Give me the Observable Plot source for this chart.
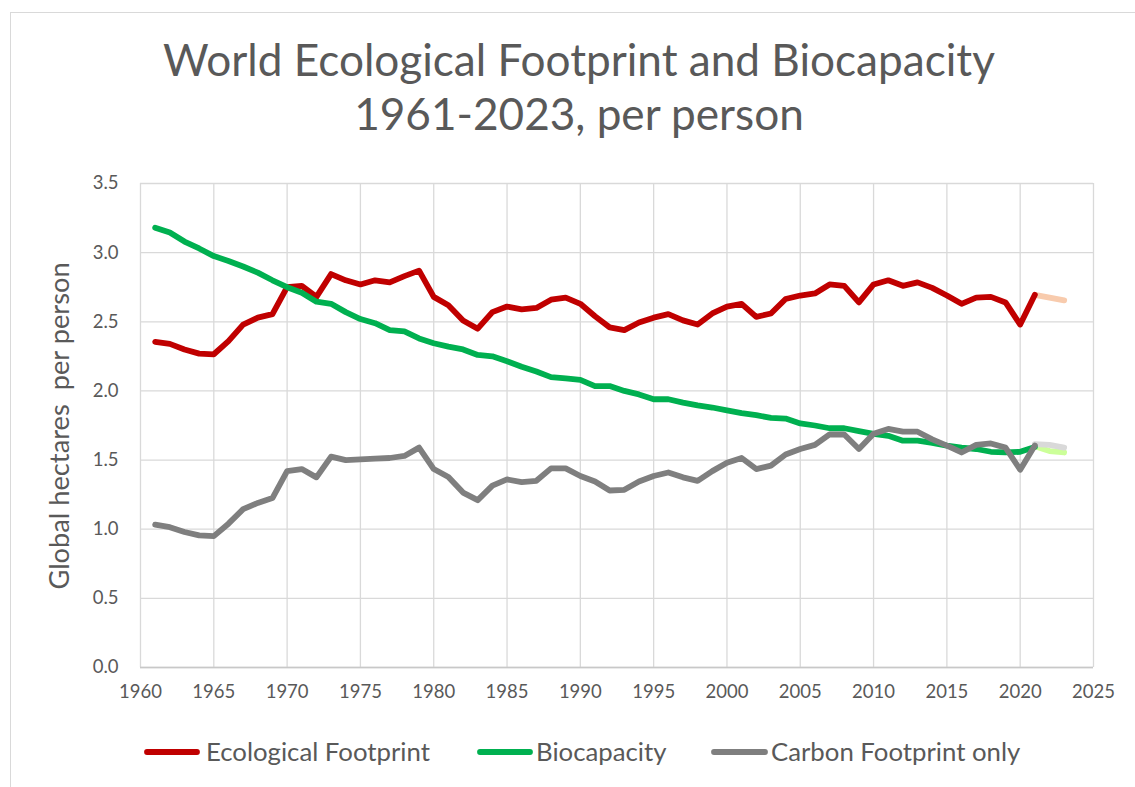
<!DOCTYPE html>
<html>
<head>
<meta charset="utf-8">
<script src="https://cdn.jsdelivr.net/npm/d3@7"></script>
<script src="https://cdn.jsdelivr.net/npm/@observablehq/plot@0.6"></script>
<style>
  html, body { margin: 0; padding: 0; background: #fff; }
  body { width: 1135px; height: 787px; overflow: hidden; position: relative; font-family: Lato, "Open Sans", sans-serif; color: #595959; }
  #frame { position: absolute; left: 10px; top: 12px; width: 1140px; height: 800px; border: 1px solid #d9d9d9; box-sizing: border-box; }
  #plot { position: absolute; left: 0; top: 160px; }
  #overlay { position: absolute; left: 0; top: 0; pointer-events: none; }
  #overlay text { white-space: pre; }
</style>
</head>
<body>
<div id="frame"></div>
<div id="plot"></div>
<svg id="overlay" width="1135" height="787"></svg>
<script>
// ---- Data ----
const years = d3.range(1961, 2022); // 1961..2021
const ecologicalFootprint = [
  2.355, 2.34, 2.30, 2.27, 2.265, 2.36, 2.48, 2.53, 2.555, 2.75,
  2.76, 2.68, 2.845, 2.80, 2.77, 2.80, 2.785, 2.83, 2.87, 2.68,
  2.62, 2.51, 2.45, 2.57, 2.61, 2.59, 2.60, 2.66, 2.675, 2.63,
  2.54, 2.46, 2.44, 2.495, 2.53, 2.555, 2.51, 2.48, 2.56, 2.61,
  2.63, 2.535, 2.56, 2.665, 2.69, 2.705, 2.77, 2.76, 2.64, 2.77,
  2.80, 2.76, 2.785, 2.745, 2.69, 2.63, 2.675, 2.68, 2.64, 2.48,
  2.695
];
const biocapacity = [
  3.18, 3.145, 3.08, 3.03, 2.975, 2.94, 2.90, 2.855, 2.80, 2.75,
  2.71, 2.645, 2.63, 2.57, 2.52, 2.49, 2.44, 2.43, 2.38, 2.345,
  2.32, 2.30, 2.26, 2.25, 2.215, 2.175, 2.14, 2.10, 2.09, 2.08,
  2.035, 2.035, 2.00, 1.975, 1.94, 1.94, 1.915, 1.895, 1.88, 1.86,
  1.84, 1.825, 1.805, 1.80, 1.765, 1.75, 1.73, 1.73, 1.71, 1.69,
  1.675, 1.64, 1.64, 1.625, 1.605, 1.59, 1.58, 1.56, 1.555, 1.56,
  1.595
];
const carbonFootprint = [
  1.033, 1.015, 0.98, 0.955, 0.95, 1.04, 1.145, 1.19, 1.225, 1.42,
  1.435, 1.375, 1.525, 1.50, 1.505, 1.51, 1.515, 1.53, 1.59, 1.435,
  1.378, 1.265, 1.21, 1.315, 1.36, 1.34, 1.35, 1.44, 1.44, 1.385,
  1.345, 1.28, 1.285, 1.345, 1.385, 1.41, 1.375, 1.35, 1.42, 1.48,
  1.515, 1.435, 1.46, 1.54, 1.58, 1.61, 1.685, 1.685, 1.58, 1.69,
  1.725, 1.705, 1.705, 1.65, 1.605, 1.555, 1.61, 1.62, 1.59, 1.43,
  1.605
];
// projections 2021-2023
const projYears = [2021, 2022, 2023];
const efProjection = [2.695, 2.675, 2.655];
const bcProjection = [1.60, 1.565, 1.555];
const cfProjection = [1.615, 1.61, 1.59];

const xTicks = d3.range(1960, 2026, 5);
const yTicks = d3.range(0, 3.51, 0.5);

const seriesNames = ["Ecological Footprint", "Biocapacity", "Carbon Footprint only"];
const seriesColors = ["#C00000", "#00B050", "#7F7F7F"];
const projColors = ["#F8CBAD", "#CCFF99", "#D9D9D9"];
const titleLines = ["World Ecological Footprint and Biocapacity", "1961-2023, per person"];
const yLabel = "Global hectares  per person";

// ---- Build tables ----
const toRows = (xs, vs) => xs.map((x, i) => ({x, v: vs[i]}));
const main = [ecologicalFootprint, biocapacity, carbonFootprint].map(v => toRows(years, v));
const proj = [efProjection, bcProjection, cfProjection].map(v => toRows(projYears, v));

const lineOpts = (color) => ({x: "x", y: "v", stroke: color, strokeWidth: 5.8, strokeLinejoin: "round", strokeLinecap: "round"});

const chart = Plot.plot({
  width: 1135,
  height: 560,
  marginLeft: 140,
  marginRight: 42,
  marginTop: 23,
  marginBottom: 53,
  style: {fontFamily: "Lato, 'Open Sans', sans-serif", fontSize: "18px", color: "#595959", background: "transparent"},
  x: {domain: [1960, 2025]},
  y: {domain: [0, 3.5]},
  marks: [
    Plot.gridX(xTicks, {stroke: "#d9d9d9", strokeOpacity: 1, strokeWidth: 1.3}),
    Plot.gridY(yTicks, {stroke: "#d9d9d9", strokeOpacity: 1, strokeWidth: 1.3}),
    Plot.ruleY([0], {stroke: "#c8c8c8", strokeWidth: 1.5}),
    Plot.axisX(xTicks, {tickSize: 0, tickPadding: 17, tickFormat: "d", label: null, fill: "#595959", fontSize: 18.5}),
    Plot.axisY(yTicks, {tickSize: 0, tickPadding: 22, tickFormat: ".1f", label: null, fill: "#595959", fontSize: 18.5}),
    Plot.line(proj[0], lineOpts(projColors[0])),
    Plot.line(proj[1], lineOpts(projColors[1])),
    Plot.line(proj[2], lineOpts(projColors[2])),
    Plot.line(main[0], lineOpts(seriesColors[0])),
    Plot.line(main[1], lineOpts(seriesColors[1])),
    Plot.line(main[2], lineOpts(seriesColors[2]))
  ]
});
document.getElementById("plot").appendChild(chart);

// ---- Title, axis label, legend ----
const ctx = document.createElement("canvas").getContext("2d");
const fit = (text, target) => { ctx.font = "100px Lato"; return 100 * target / ctx.measureText(text).width; };

const svg = d3.select("#overlay");
const titleSize = fit(titleLines[0], 832);
svg.append("text").attr("x", 579).attr("y", 76).attr("text-anchor", "middle")
  .attr("font-family", "Lato").attr("font-size", titleSize).attr("fill", "#595959").text(titleLines[0]);
svg.append("text").attr("x", 579).attr("y", 130).attr("text-anchor", "middle")
  .attr("font-family", "Lato").attr("font-size", titleSize).attr("fill", "#595959").text(titleLines[1]);

const yLabSize = fit(yLabel, 328);
svg.append("text").attr("transform", "translate(69,426) rotate(-90)").attr("text-anchor", "middle")
  .attr("font-family", "Lato").attr("font-size", yLabSize).attr("fill", "#595959").text(yLabel);

const legendSwatch = [[147, 197], [480, 530], [714, 765]];
const legendTextX = [206, 536, 771];
const legendWidths = [224, 128, 247];
const legSize = fit(seriesNames[0], legendWidths[0]);
seriesNames.forEach((name, i) => {
  svg.append("line").attr("x1", legendSwatch[i][0]).attr("x2", legendSwatch[i][1])
    .attr("y1", 752).attr("y2", 752).attr("stroke", seriesColors[i])
    .attr("stroke-width", 5.8).attr("stroke-linecap", "round");
  svg.append("text").attr("x", legendTextX[i]).attr("y", 761)
    .attr("font-family", "Lato").attr("font-size", legSize).attr("fill", "#595959").text(name);
});
</script>
</body>
</html>
